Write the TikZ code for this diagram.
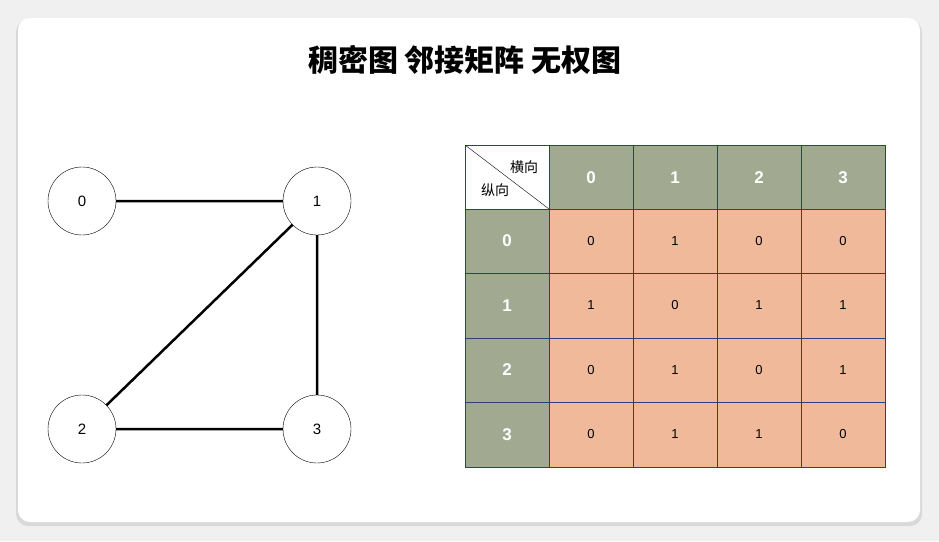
\documentclass[tikz,border=0pt]{standalone}
\usepackage{fontspec}
\setmainfont{Liberation Sans}
\newfontfamily\cjk{Noto Sans CJK SC}
\begin{document}
\begin{tikzpicture}[x=1pt,y=-1pt,
 vtx/.style={draw,circle,minimum size=68pt,inner sep=0pt,font=\fontsize{15}{15}\selectfont},
 edge/.style={line width=2.5pt},
 hcell/.style={fill=hd,draw=bd,text=white,font=\bfseries\fontsize{17}{17}\selectfont},
 ccell/.style={fill=cl,draw=bd,font=\fontsize{13}{13}\selectfont}]
\definecolor{hd}{HTML}{A1AA90}
\definecolor{cl}{HTML}{F0B999}
\definecolor{bd}{HTML}{2A3F80}
\useasboundingbox (0,0) rectangle (939,541);
\fill[gray!12] (0,0) rectangle (939,541);
\fill[gray!30,rounded corners=12pt] (16,20) rectangle (922,526);
\fill[white,rounded corners=12pt] (18,18) rectangle (920,522);
\node at (465,60) {\cjk\bfseries\fontsize{30}{30}\selectfont 稠密图 邻接矩阵 无权图};
\node[vtx] (v0) at (82,201) {0};
\node[vtx] (v1) at (317,201) {1};
\node[vtx] (v2) at (82,429) {2};
\node[vtx] (v3) at (317,429) {3};
\draw[edge] (v0)--(v1) (v1)--(v2) (v1)--(v3) (v2)--(v3);
\def\xs{{465,549,633,717,801,885}}
\def\ys{{145,209,273,338,402,467}}
\draw[bd,fill=white] (465,145) rectangle (549,209);
\draw (465,145)--(549,209);
\node[font=\cjk\fontsize{14}{14}\selectfont] at (524,167) {横向};
\node[font=\cjk\fontsize{14}{14}\selectfont] at (495,190) {纵向};
\foreach \i in {0,...,3}{
 \pgfmathsetmacro\xa{\xs[\i+1]}\pgfmathsetmacro\xb{\xs[\i+2]}
 \pgfmathsetmacro\ya{\ys[\i+1]}\pgfmathsetmacro\yb{\ys[\i+2]}
 \draw[hcell] (\xa,145) rectangle (\xb,209);
 \node[text=white,font=\bfseries\fontsize{17}{17}\selectfont] (h\i) at ({(\xa+\xb)/2},178) {\i};
 \draw[hcell] (465,\ya) rectangle (549,\yb);
 \node[text=white,font=\bfseries\fontsize{17}{17}\selectfont] (r\i) at (507,{(\ya+\yb)/2}) {\i};
}
\foreach \r/\row in {0/{0,1,0,0},1/{1,0,1,1},2/{0,1,0,1},3/{0,1,1,0}}{
 \foreach \v [count=\c from 0] in \row {
  \pgfmathsetmacro\xa{\xs[\c+1]}\pgfmathsetmacro\xb{\xs[\c+2]}
  \pgfmathsetmacro\ya{\ys[\r+1]}\pgfmathsetmacro\yb{\ys[\r+2]}
  \draw[ccell] (\xa,\ya) rectangle (\xb,\yb);
  \node[font=\fontsize{13}{13}\selectfont] (m\r\c) at ({(\xa+\xb)/2},{(\ya+\yb)/2}) {\v};
 }
}
\end{tikzpicture}
\end{document}
